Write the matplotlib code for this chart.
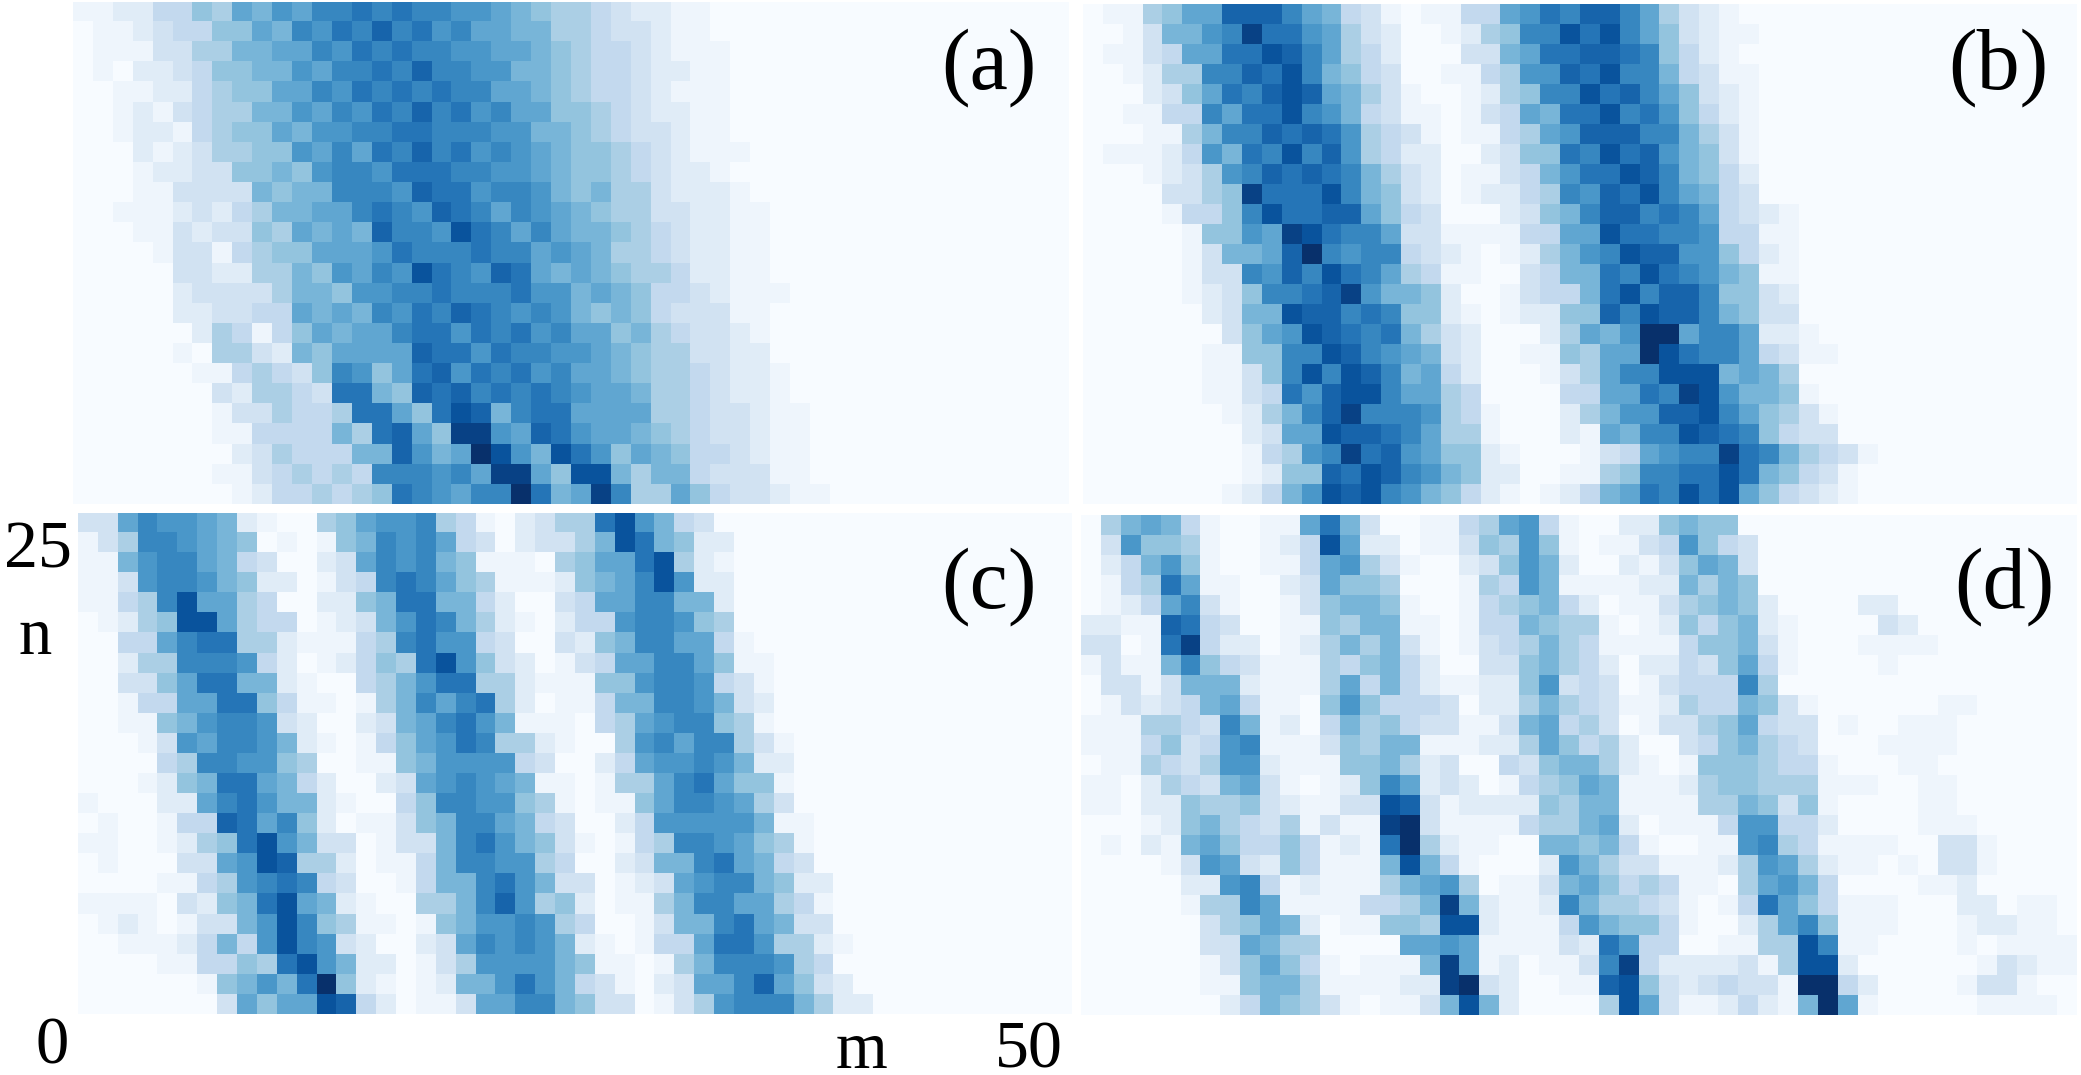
import matplotlib
matplotlib.use("Agg")
import matplotlib.pyplot as plt
import numpy as np

# levels 0-f, one string per row from n=24 down to n=0
# rows stop at the last non empty cell, the rest is background
panel_a = [
    "112244658798aababaa9987655432211",
    "01123446687a9bacab9a887755433211",
    "011133557788a9babaa99887654432111",
    "0102234667798aabacaa9977654432211",
    "001122456688a9bababaa887654432111",
    "0012134557798a9bacab9a88665432211",
    "00122145668799aabbaaa997765433211",
    "0002123556698a8bacab9a987665432111",
    "0001223366769aa9bbbaa998766543221",
    "0001133337677aaa9cbb9aa97675532221",
    "00111232457788aba9cba8a987655332211",
    "000113233658787caa9dba8a87765432211",
    "0000133145668889baaabaa898755432211",
    "000003322557698a9dba9cb878765542211",
    "0000023333577699aabaaab9978764432111",
    "000002233448787a9bacba9a97676433311",
    "0000002541468788abb9bab9a8867543321",
    "00000105532768888cbb9baa99876553322",
    "0000001145436a968bc9bab9a88765543221",
    "0000000325543bb76cbcababa98875543221",
    "00000001335445bb86bdc7abb888855433211",
    "000000011444475bc86ee98cb988765433211",
    "0000000023544477c978fd97db96876443211",
    "000000011345454aaa9a8ee86dd7577433311",
    "0000000012445456ba98aafb78ea5586433211",
]
panel_b = [
    "0115688ccca874310114489bacca85321",
    "0013779aebb98532001256aadbda863211",
    "0113488bbdca85420003378bbccba6421",
    "001255aacbda764300114599cbdaa74311",
    "0002368bacdc87531001256aadbca86321",
    "001144a8bbda974311013487bbdab96421",
    "0001157aacbcb954310114589cccaa7531",
    "01112497badac95422002366badbc97631",
    "00012359acbcba75320113479bbdca7642",
    "00003356ebbbda7632012245a9cbda8743",
    "00001446adbbcc86430002367accaba84321",
    "0000016698edbaa83311114488dbbaa94411",
    "0000013778cfa9aa4321012579adcc996421",
    "00000133a9cadba85411003477badba97611",
    "000001236aabce977620013447bdacca6632",
    "0000002377dccaba6621012266cadcca7633",
    "00000003689dcbab753200025879ff8aa8221",
    "0000001166aadca9873200116588fdbaa84311",
    "0000001136adadca78420001358aaddd7875",
    "0000001134b9cdda885400004488baed977610",
    "00000001257aceaaa954100025799ccda86531",
    "000000002388dccba85510002187aadcba6433",
    "000000001459aebc98662100013489aaeba75431",
    "000000001266cbdca97622001156aabbdb76431",
    "000000012479dcda976421012478badbd864321",
]
panel_c = [
    "338a9987210056899a54102355bd9743",
    "135aa9876010167a9a843023357db7622",
    "1179aa874300238a9a7611105688bd521",
    "1139aa976220134aba8651112678ad922",
    "1145ad8854002267bb7742003488aa772",
    "01256dd8544012379ba752102449aa965",
    "00448abb55211145ab9943003267aa8841",
    "00255aaa942012465bd9632013488aa8611",
    "003368bb7721004579bb552111669aa9431",
    "0014488bb64110157a8ab52011477aa9732",
    "0011679aa932002378ab9711104589aa651",
    "0001398aa9721014689ba55210059a8aa531",
    "000045aa99650011679999430024899a9722",
    "0001267bb8742002389a9871101558ab8661",
    "1000228ab977210046aa9965101168aa9853",
    "0100144cb8a62011367aa8743002499999711",
    "11001256bd973301337ab976310145aa98651",
    "010003389dc55201147aa9954002377ab8743",
    "000011459aba43001477ab9733012389aa7622",
    "111103267bd872100557ac956201157aa88541",
    "0121013379da6511016799a954001377ab8733",
    "0011124749da93200238a9a972101448bb95521",
    "0000114465bd97220135999976110157aaa954",
    "00000016797bf621012779b9743102388ac8632",
    "000000038688dc42011388aa763301359aaa7522",
]
panel_d = [
    "057874100118b73001145894100226766",
    "039665100124d822011365961011349643",
    "0247961001148953100236972002136873",
    "0145b81100238665000154971111227576",
    "01248a31001367761001456742011356762000022",
    "2211cb430011657711014476551012646721000032",
    "3301be4220125757310134575411114667310001111",
    "13117a64311154674200336754202243684100001",
    "033137772111584742112269343013444a5",
    "013234784110696444302257543112544763100000011",
    "1115543a712047564331137845301335684330100111",
    "11146349a11136577111225864520034675430001111",
    "0115435992111667523004367752101666544100011",
    "110254378310126a8232014568711125665551110011",
    "110226556321133dc312222657711115576361000011",
    "000126754351311ef3111145578201114994420000111",
    "010217864464121bf52110077674100119a54111100331",
    "0000139832641117d74100029753311125985211010331",
    "00000229a412111578950113786454110589740000112",
    "00000155a811114457e72112a755431014b86411100022011",
    "000000356872011665dd2111497664100258a611100012211",
    "00000033875500008898111132b944001155da110000101111",
    "000000136864101117e8120113ae42222315dd200000013211",
    "000000116775111122ef320011cd63234331ff4200001331",
    "0000000247653101137d7200005d831124217f81000001111",
]

panel_names = ["(a)", "(b)", "(c)", "(d)"]
n_cols = 50

# colormap position of each level, the pale end is stretched by eye
level_values = [0, .045, .115, .19, .26, .333, .4, .467, .533, .6, .667, .733, .8, .867, .933, 1]

W, H = 2081, 1075


def to_levels(rows):
    return np.array([[level_values[int(c, 16)] for c in r.ljust(n_cols, "0")[:n_cols]] for r in rows])


def text_px(x, y, s, size):
    fig.text(x / W, 1 - y / H, s, fontsize=size, family="Liberation Serif",
             ha="left", va="baseline", color="black")


fig = plt.figure(figsize=(W / 100, H / 100), dpi=100, facecolor="white")

# left, top, right, bottom of each panel in pixels
boxes = [(73, 2, 1069, 504), (1083, 4, 2077, 504), (78, 513, 1071, 1014), (1081, 515, 2077, 1015)]
label_pos = [(941, 88), (1948, 88), (941, 607), (1954, 607)]

for rows, box, name, pos in zip([panel_a, panel_b, panel_c, panel_d], boxes, panel_names, label_pos):
    l, t, r, b = box
    ax = fig.add_axes([l / W, 1 - b / H, (r - l) / W, (b - t) / H])
    ax.imshow(to_levels(rows), cmap="Blues", vmin=0, vmax=1, aspect="auto", interpolation="nearest")
    ax.axis("off")
    text_px(pos[0], pos[1], name, 62)

text_px(4, 568, "25", 49)
text_px(19, 654, "n", 48)
text_px(35, 1064, "0", 48)
text_px(836, 1068, "m", 48)
text_px(995, 1068, "50", 49)

fig.savefig("out.png", dpi=100)
